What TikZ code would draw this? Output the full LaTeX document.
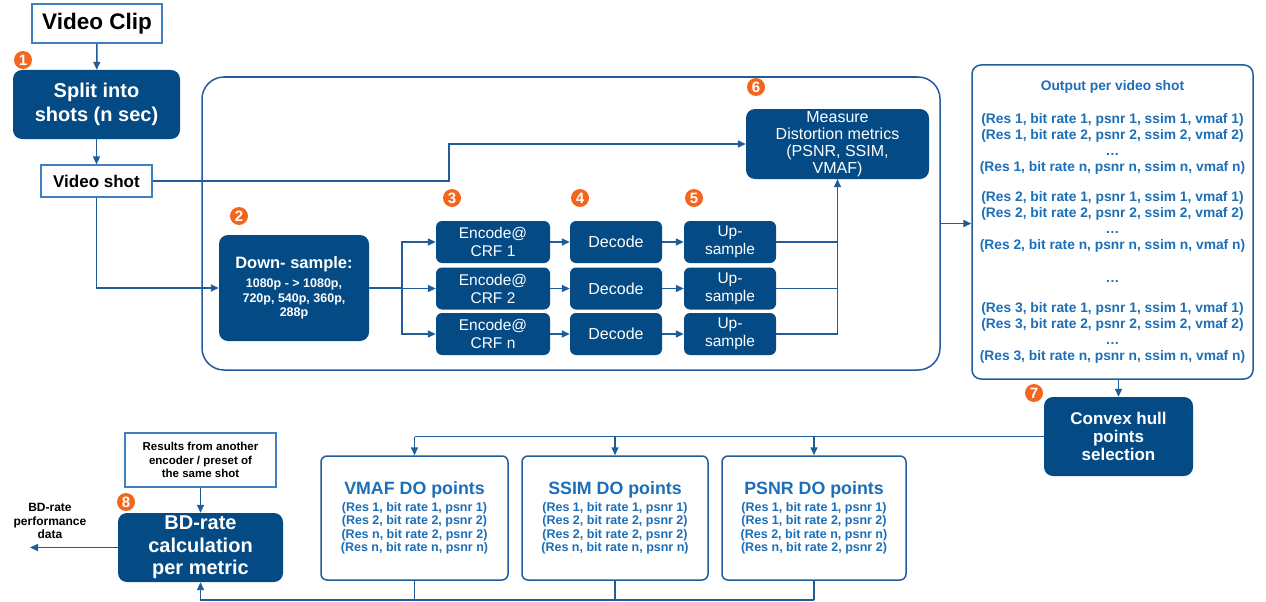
\documentclass[tikz,border=0pt]{standalone}
\usepackage{fontspec}
\setmainfont{Liberation Sans}
\usetikzlibrary{arrows.meta}

\definecolor{dblue}{RGB}{4,74,133}
\definecolor{wblue}{RGB}{32,92,152}
\definecolor{lblue}{RGB}{64,128,192}
\definecolor{tblue}{RGB}{28,110,184}
\definecolor{orng}{RGB}{244,102,30}
\newcommand{\fsz}[2]{\fontsize{#1}{#2}\selectfont}

\begin{document}
\begin{tikzpicture}[x=1pt,y=-1pt,
	dkbox/.style={fill=dblue, rounded corners=9pt, text=white, align=center, inner sep=0pt},
	wbox/.style={draw=lblue, line width=1.2pt, fill=white, align=center, inner sep=0pt},
	rbox/.style={draw=wblue, line width=1.5pt, rounded corners=6pt, align=center, inner sep=0pt, text=tblue},
	badge/.style={circle, fill=orng, text=white, inner sep=0pt, minimum size=18pt, font=\bfseries\fsz{15}{15}},
	wire/.style={draw=wblue, line width=1.5pt},
	feed/.style={wire, -{Triangle[length=8pt,width=7pt]}}]
	\useasboundingbox (0,0) rectangle (1266,602);
	
	% left column
	\node[wbox, minimum width=130, minimum height=39, font=\bfseries\fsz{22.5}{24}] (clip) at (97,23.5) {Video Clip};
	\node[dkbox, minimum width=167, minimum height=69, font=\bfseries\fsz{20}{24}] (split) at (96.5,104.5) {Split into\\shots (n sec)};
	\node[wbox, minimum width=111, minimum height=32, font=\bfseries\fsz{17}{20}] (shot) at (96.5,181) {Video shot};
	
	% encoding loop
	\node[draw=wblue, line width=1.5pt, rounded corners=22pt, minimum width=738, minimum height=293] (frame) at (571,223.5) {};
	\node[dkbox, minimum width=150, minimum height=106, font=\bfseries\fsz{12.5}{14.5}] (down) at (294,288)
	{{\fsz{16.5}{20}Down- sample:}\\[5pt]
		1080p - > 1080p,\\720p, 540p, 360p,\\288p};
	\foreach \i/\yy in {1/242,2/288.5,n/334} {
		\node[dkbox, rounded corners=6pt, minimum width=114, minimum height=42, font=\fsz{15.5}{18}] (enc\i) at (493,\yy) {Encode@\\CRF \i};
		\node[dkbox, rounded corners=6pt, minimum width=92, minimum height=42, font=\fsz{16}{18}] (dec\i) at (616,\yy) {Decode};
		\node[dkbox, rounded corners=6pt, minimum width=92, minimum height=42, font=\fsz{15.5}{18}] (up\i) at (730,\yy) {Up-\\sample};
	}
	\node[dkbox, minimum width=183, minimum height=70, font=\fsz{16}{17.2}] (measure) at (837.5,144)
	{Measure\\Distortion metrics\\(PSNR, SSIM,\\VMAF)};
	
	% outputs
	\node[rbox, rounded corners=9pt, minimum width=281, minimum height=314, font=\bfseries\fsz{13.8}{16}] (output) at (1112.5,222)
	{Output per video shot\\[17pt]
		(Res 1, bit rate 1, psnr 1, ssim 1, vmaf 1)\\(Res 1, bit rate 2, psnr 2, ssim 2, vmaf 2)\\\ldots\\(Res 1, bit rate n, psnr n, ssim n, vmaf n)\\[14pt]
		(Res 2, bit rate 1, psnr 1, ssim 1, vmaf 1)\\(Res 2, bit rate 2, psnr 2, ssim 2, vmaf 2)\\\ldots\\(Res 2, bit rate n, psnr n, ssim n, vmaf n)\\[17pt]
		\ldots\\[14pt]
		(Res 3, bit rate 1, psnr 1, ssim 1, vmaf 1)\\(Res 3, bit rate 2, psnr 2, ssim 2, vmaf 2)\\\ldots\\(Res 3, bit rate n, psnr n, ssim n, vmaf n)};
	\node[dkbox, minimum width=149, minimum height=79, font=\bfseries\fsz{17}{18}] (hull) at (1118.5,436.5) {Convex hull\\points\\selection};
	
	\node[rbox, minimum width=187, minimum height=124, font=\bfseries\fsz{12.5}{13.5}] (vmaf) at (414.5,518)
	{{\fsz{17.8}{20}VMAF DO points}\\[3pt]
		(Res 1, bit rate 1, psnr 1)\\(Res 2, bit rate 2, psnr 2)\\(Res n, bit rate 2, psnr 2)\\(Res n, bit rate n, psnr n)};
	\node[rbox, minimum width=186, minimum height=124, font=\bfseries\fsz{12.5}{13.5}] (ssim) at (615,518)
	{{\fsz{17.8}{20}SSIM DO points}\\[3pt]
		(Res 1, bit rate 1, psnr 1)\\(Res 2, bit rate 2, psnr 2)\\(Res 2, bit rate 2, psnr 2)\\(Res n, bit rate n, psnr n)};
	\node[rbox, minimum width=184, minimum height=124, font=\bfseries\fsz{12.5}{13.5}] (psnr) at (814,518)
	{{\fsz{17.8}{20}PSNR DO points}\\[3pt]
		(Res 1, bit rate 1, psnr 1)\\(Res 1, bit rate 2, psnr 2)\\(Res 2, bit rate n, psnr n)\\(Res n, bit rate 2, psnr 2)};
	
	\node[dkbox, minimum width=165, minimum height=69, font=\bfseries\fsz{20}{22.5}] (bd) at (200.5,547.5) {BD-rate\\calculation\\per metric};
	\node[wbox, minimum width=151, minimum height=54, font=\bfseries\fsz{11.5}{13.5}] (res) at (200.5,460) {Results from another\\encoder / preset of\\the same shot};
	\node[align=center, inner sep=0pt, font=\bfseries\fsz{12}{13.5}] (perf) at (50,521) {BD-rate\\performance\\data};
	\coordinate (perfend) at (30,548);
	
	% badges
	\node[badge] (b1) at (23,60) {1};
	\node[badge] (b2) at (239,216) {2};
	\node[badge] (b3) at (452,198) {3};
	\node[badge] (b4) at (580,198) {4};
	\node[badge] (b5) at (694,198) {5};
	\node[badge] (b6) at (756,87) {6};
	\node[badge] (b7) at (1034,393) {7};
	\node[badge] (b8) at (126,502) {8};
	
	% connectors
	\coordinate (kink) at (449,181);
	\coordinate (fork) at (402,288);
	\coordinate (bottom) at (200.5,600);
	\draw[feed] (clip) -- (split);
	\draw[feed] (split) -- (shot);
	\draw[feed] (shot.south) |- (down.west);
	\draw[feed] (shot.east) -- (kink) |- (measure.west);
	\draw[wire] (down.east) -- (fork);
	\foreach \i in {1,2,n} {
		\draw[feed] (fork) |- (enc\i.west);
		\draw[feed] (enc\i) -- (dec\i);
		\draw[feed] (dec\i) -- (up\i);
	}
	\draw[wire] (up1.east) -| (measure.south);
	\draw[wire] (up2.east) -| (measure.south);
	\draw[feed] (upn.east) -| (measure.south);
	\draw[feed] (frame.east) -- (frame.east -| output.west);
	\draw[feed] (hull.north |- output.south) -- (hull.north);
	\draw[wire] (hull.west) -- (hull.west -| vmaf.north);
	\foreach \m in {vmaf,ssim,psnr} {
		\draw[feed] (\m.north |- hull.west) -- (\m.north);
		\draw[wire] (\m.south) -- (\m.south |- bottom);
	}
	\draw[feed] (psnr.south |- bottom) -- (bottom) -- (bd.south);
	\draw[feed] (res) -- (bd);
	\draw[feed] (bd.west) -- (bd.west -| perfend);
	
\end{tikzpicture}
\end{document}
